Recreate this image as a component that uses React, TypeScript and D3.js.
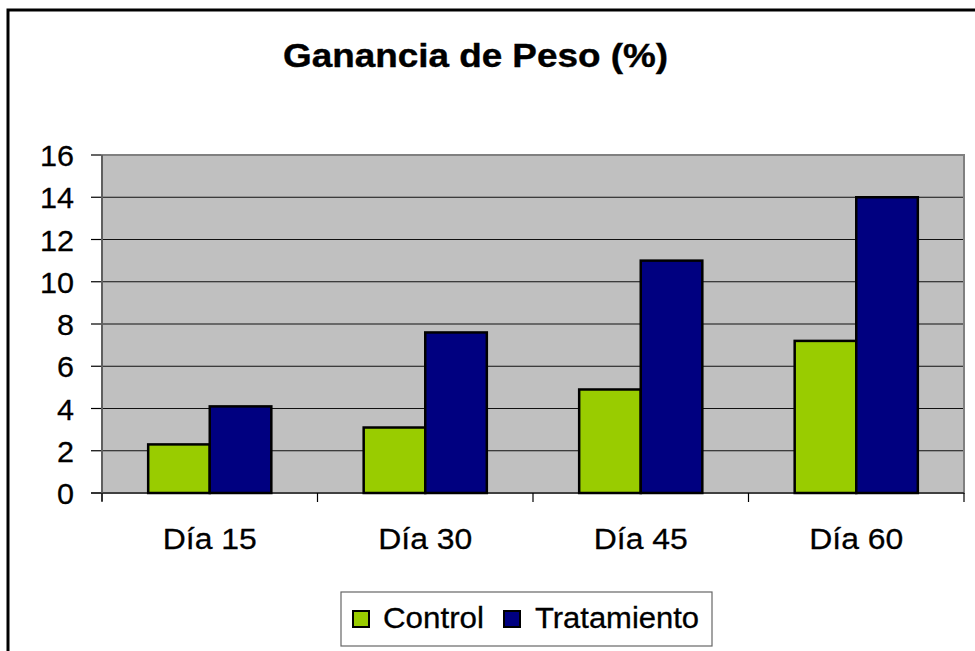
import React from "react"
import { scaleBand, scaleLinear } from "d3"

// datos
const categories = ["Día 15", "Día 30", "Día 45", "Día 60"]
const series = ["Control", "Tratamiento"]
const control = [2.3, 3.1, 4.9, 7.2]
const tratamiento = [4.1, 7.6, 11.0, 14.0]
const yTicks = [0, 2, 4, 6, 8, 10, 12, 14, 16]
const colors = ["#99CC00", "#000080"]

const font = "Arial, 'Liberation Sans', sans-serif"

export default function App() {
  const W = 975
  const H = 651
  const plot = { left: 102, right: 964, top: 155, bottom: 493 }

  const x = scaleBand<string>()
    .domain(categories)
    .range([plot.left, plot.right])
    .padding(0)
  const xs = scaleBand<string>()
    .domain(series)
    .range([0, x.bandwidth()])
    .paddingInner(0)
    .paddingOuter(0.75)
  const y = scaleLinear().domain([0, 16]).range([plot.bottom, plot.top])

  const values = [control, tratamiento]

  return (
    <svg
      width={W}
      height={H}
      style={{ position: "absolute", left: 0, top: 0, background: "#fff" }}
      fontFamily={font}
    >
      {/* marco exterior */}
      <rect x={8} y={10} width={1000} height={1000} fill="#fff" stroke="#000" strokeWidth={3} />

      <text x={475.5} y={67} textAnchor="middle" fontSize={34} fontWeight="bold"
        textLength={385} lengthAdjust="spacingAndGlyphs" stroke="#000" strokeWidth={0.4}>
        Ganancia de Peso (%)
      </text>

      {/* área de trazado */}
      <rect x={plot.left} y={plot.top} width={plot.right - plot.left} height={plot.bottom - plot.top}
        fill="#C0C0C0" />
      {yTicks.map(t => (
        <g key={t}>
          {t > 0 && t < 16 && (
            <line x1={plot.left} x2={plot.right} y1={y(t)} y2={y(t)} stroke="#111" strokeWidth={1.2} />
          )}
          <line x1={plot.left - 11} x2={plot.left} y1={y(t)} y2={y(t)} stroke="#000" strokeWidth={1.2} />
          <text x={74} y={y(t) + 11} textAnchor="end" fontSize={30} stroke="#000" strokeWidth={0.3}
            textLength={String(t).length === 2 ? 34 : 17} lengthAdjust="spacingAndGlyphs">{t}</text>
        </g>
      ))}
      <rect x={plot.left} y={plot.top} width={plot.right - plot.left} height={plot.bottom - plot.top}
        fill="none" stroke="#808080" strokeWidth={2} />

      {categories.map((c, i) => (
        <g key={c}>
          {series.map((s, j) => (
            <rect key={s}
              x={x(c)! + xs(s)!}
              y={y(values[j][i])}
              width={xs.bandwidth()}
              height={y(0) - y(values[j][i])}
              fill={colors[j]}
              stroke="#000"
              strokeWidth={2.5}
            />
          ))}
          <text x={x(c)! + x.bandwidth() / 2} y={549} textAnchor="middle" fontSize={30}
            stroke="#000" strokeWidth={0.3}
            textLength={94} lengthAdjust="spacingAndGlyphs">{c}</text>
        </g>
      ))}

      <line x1={plot.left - 11} x2={plot.right} y1={y(0)} y2={y(0)} stroke="#000" strokeWidth={1.2} />
      <line x1={plot.left} x2={plot.left} y1={plot.top} y2={plot.bottom + 8} stroke="#555" strokeWidth={1.5} />
      {[...categories.map(c => x(c)!), plot.right].map((v, i) => (
        <line key={i} x1={v} x2={v} y1={plot.bottom} y2={plot.bottom + 9} stroke="#000" strokeWidth={1.2} />
      ))}

      {/* leyenda */}
      <rect x={341} y={592} width={371} height={54} fill="#fff" stroke="#666" strokeWidth={1.2} />
      {series.map((s, j) => {
        const sx = j === 0 ? 353 : 504
        const tx = j === 0 ? 383 : 535
        const tl = j === 0 ? 101 : 164
        return (
          <g key={s}>
            <rect x={sx} y={611} width={16} height={16} fill={colors[j]} stroke="#000" strokeWidth={2} />
            <text x={tx} y={628} fontSize={29} stroke="#000" strokeWidth={0.3}
              textLength={tl} lengthAdjust="spacingAndGlyphs">{s}</text>
          </g>
        )
      })}
    </svg>
  )
}
